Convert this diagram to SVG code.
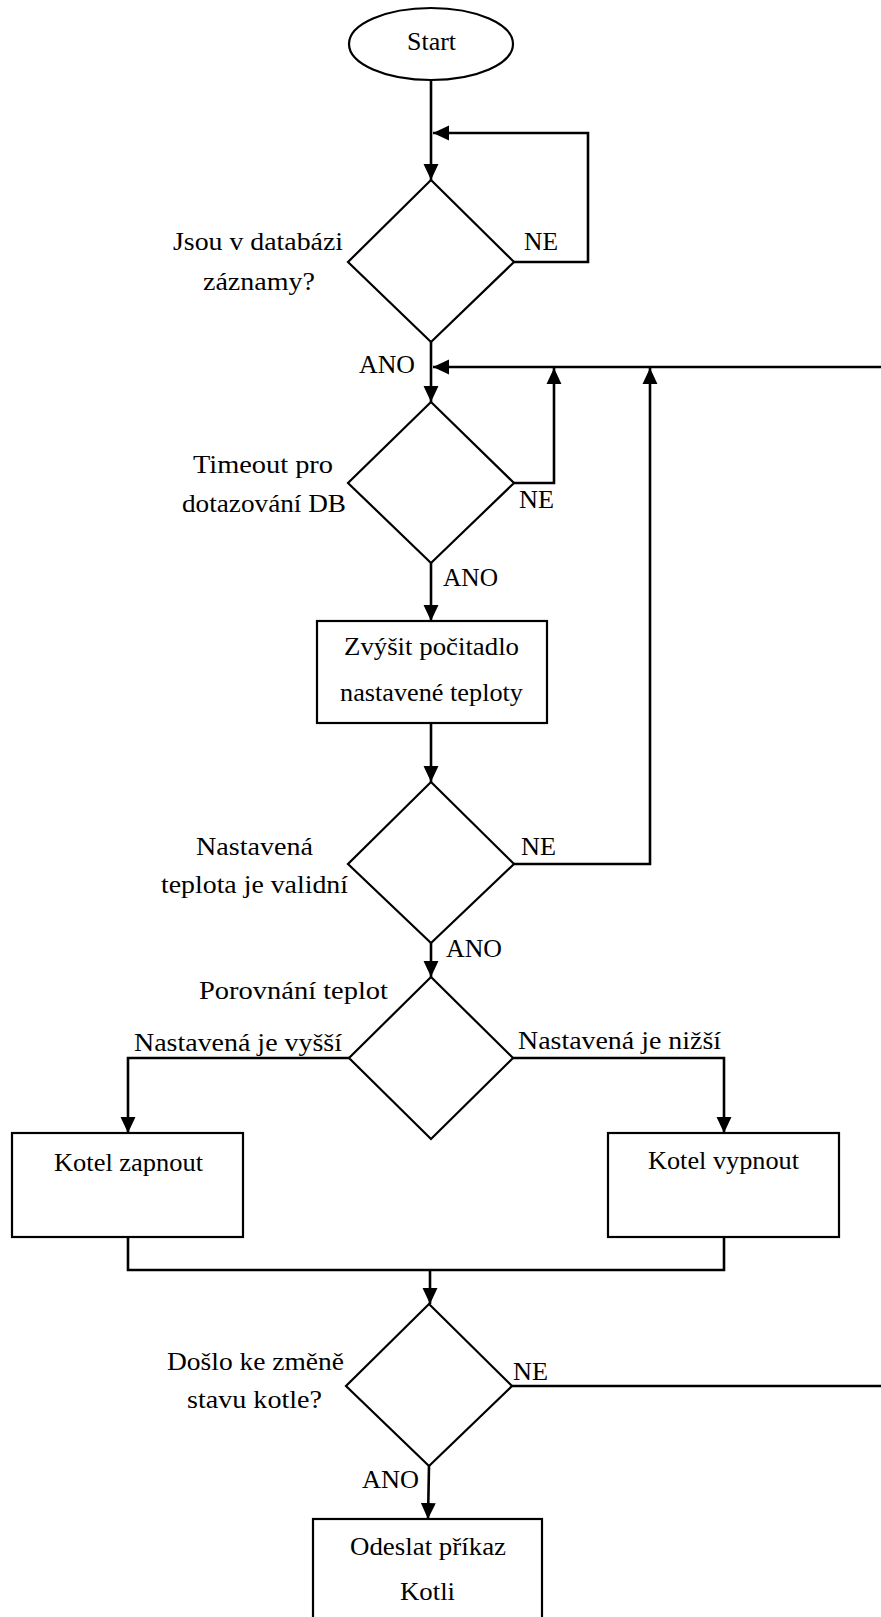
<svg xmlns="http://www.w3.org/2000/svg" width="881" height="1617" viewBox="0 0 881 1617">
<style>
.shape{fill:#fff;stroke:#000;stroke-width:2.2}
.conn{fill:none;stroke:#000;stroke-width:2.6}
.arr{marker-end:url(#ah)}
text{font-family:"Liberation Serif","Times New Roman",serif;font-size:26px;fill:#000}
</style>
<defs>
<marker id="ah" markerUnits="userSpaceOnUse" markerWidth="16" markerHeight="16" viewBox="0 0 15 14" refX="15" refY="7" orient="auto">
<path d="M0,0 L15,7 L0,14 Z" fill="#000"/>
</marker>
</defs>
<rect width="881" height="1617" fill="#fff"/>
<g id="connectors">
<path class="conn arr" d="M431,80 V180"/>
<path class="conn arr" d="M514,262 H588 V133 H433"/>
<path class="conn arr" d="M431,342 V402"/>
<path class="conn arr" d="M881,367 H433"/>
<path class="conn arr" d="M514,483 H554 V368"/>
<path class="conn arr" d="M431,563 V621"/>
<path class="conn arr" d="M431,723 V782"/>
<path class="conn arr" d="M514,864 H650 V368"/>
<path class="conn arr" d="M431,943 V977"/>
<path class="conn arr" d="M349,1058 H128 V1133"/>
<path class="conn arr" d="M513,1058 H724 V1133"/>
<path class="conn" d="M128,1237 V1270 H724 V1237"/>
<path class="conn arr" d="M430,1270 V1304"/>
<path class="conn" d="M512,1386 H881"/>
<path class="conn arr" d="M429,1466 L428,1519"/>
</g>
<g id="start">
<ellipse class="shape" cx="431" cy="44" rx="82" ry="36"/>
<text x="407" y="50" textLength="49" lengthAdjust="spacingAndGlyphs">Start</text>
</g>
<g id="d1">
<polygon class="shape" points="431,180 514,262 431,342 348,262"/>
<text x="173" y="250" textLength="170" lengthAdjust="spacingAndGlyphs">Jsou v databázi</text>
<text x="203" y="290" textLength="112" lengthAdjust="spacingAndGlyphs">záznamy?</text>
<text x="524" y="250" textLength="34" lengthAdjust="spacingAndGlyphs">NE</text>
<text x="359" y="373" textLength="56" lengthAdjust="spacingAndGlyphs">ANO</text>
</g>
<g id="d2">
<polygon class="shape" points="431,402 514,483 431,563 348,483"/>
<text x="193" y="473" textLength="140" lengthAdjust="spacingAndGlyphs">Timeout pro</text>
<text x="182" y="512" textLength="164" lengthAdjust="spacingAndGlyphs">dotazování DB</text>
<text x="519" y="508" textLength="35" lengthAdjust="spacingAndGlyphs">NE</text>
<text x="443" y="586" textLength="55" lengthAdjust="spacingAndGlyphs">ANO</text>
</g>
<g id="b1">
<rect class="shape" x="317" y="621" width="230" height="102"/>
<text x="344" y="655" textLength="175" lengthAdjust="spacingAndGlyphs">Zvýšit počitadlo</text>
<text x="340" y="701" textLength="183" lengthAdjust="spacingAndGlyphs">nastavené teploty</text>
</g>
<g id="d3">
<polygon class="shape" points="431,782 514,864 431,943 348,864"/>
<text x="196" y="855" textLength="117" lengthAdjust="spacingAndGlyphs">Nastavená</text>
<text x="161" y="893" textLength="187" lengthAdjust="spacingAndGlyphs">teplota je validní</text>
<text x="521" y="855" textLength="35" lengthAdjust="spacingAndGlyphs">NE</text>
<text x="446" y="957" textLength="56" lengthAdjust="spacingAndGlyphs">ANO</text>
</g>
<g id="d4">
<polygon class="shape" points="431,977 513,1058 431,1139 349,1058"/>
<text x="199" y="999" textLength="189" lengthAdjust="spacingAndGlyphs">Porovnání teplot</text>
<text x="134" y="1051" textLength="208" lengthAdjust="spacingAndGlyphs">Nastavená je vyšší</text>
<text x="518" y="1049" textLength="203" lengthAdjust="spacingAndGlyphs">Nastavená je nižší</text>
</g>
<g id="b-on">
<rect class="shape" x="12" y="1133" width="231" height="104"/>
<text x="54" y="1171" textLength="149" lengthAdjust="spacingAndGlyphs">Kotel zapnout</text>
</g>
<g id="b-off">
<rect class="shape" x="608" y="1133" width="231" height="104"/>
<text x="648" y="1169" textLength="151" lengthAdjust="spacingAndGlyphs">Kotel vypnout</text>
</g>
<g id="d5">
<polygon class="shape" points="429,1304 512,1386 429,1466 346,1386"/>
<text x="167" y="1370" textLength="177" lengthAdjust="spacingAndGlyphs">Došlo ke změně</text>
<text x="187" y="1408" textLength="135" lengthAdjust="spacingAndGlyphs">stavu kotle?</text>
<text x="513" y="1380" textLength="35" lengthAdjust="spacingAndGlyphs">NE</text>
<text x="362" y="1488" textLength="57" lengthAdjust="spacingAndGlyphs">ANO</text>
</g>
<g id="b-send">
<rect class="shape" x="313" y="1519" width="229" height="120"/>
<text x="350" y="1555" textLength="156" lengthAdjust="spacingAndGlyphs">Odeslat příkaz</text>
<text x="400" y="1600" textLength="55" lengthAdjust="spacingAndGlyphs">Kotli</text>
</g>
</svg>
